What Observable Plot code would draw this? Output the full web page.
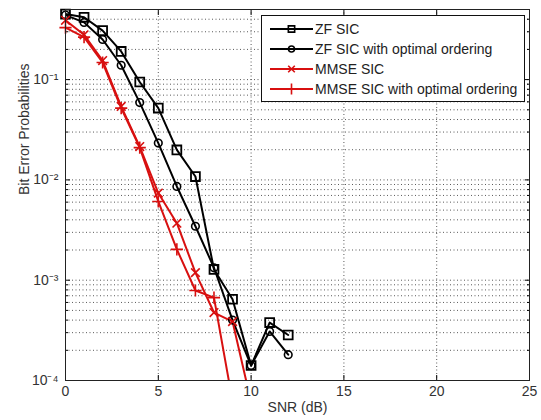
<!DOCTYPE html>
<html><head><meta charset="utf-8">
<script src="https://cdn.jsdelivr.net/npm/d3@7"></script>
<script src="https://cdn.jsdelivr.net/npm/@observablehq/plot@0.6"></script>
<style>
body{margin:0;background:#fff;}
#wrap{position:relative;width:541px;height:420px;font-family:"Liberation Sans",Arial,sans-serif;}
#legend{position:absolute;left:261px;top:15px;}
</style></head><body><div id="wrap"></div>
<script>
// ---- data ----
const snr = [0,1,2,3,4,5,6,7,8,9,10,11,12];
const zfSic    = [0.45,0.418,0.308,0.191,0.0946,0.052,0.0199,0.0108,0.00128,0.000646,0.000141,0.000378,0.000284];
const zfSicOrd = [0.44,0.372,0.251,0.139,0.059,0.0233,0.0086,0.00345,0.00133,0.0004,0.000141,0.000308,0.000181];
const mmseSnr    = [0,1,2,3,4,5,6,7,8,9,10];
const mmseSic    = [0.39,0.28,0.155,0.054,0.0215,0.0074,0.0037,0.00119,0.000476,0.000387,0.000061];
const mmseOrdSnr = [0,1,2,3,4,5,6,7,8,9];
const mmseSicOrd = [0.33,0.265,0.148,0.052,0.021,0.0061,0.00203,0.00079,0.00067,0.000062];
const seriesNames = ["ZF SIC","ZF SIC with optimal ordering","MMSE SIC","MMSE SIC with optimal ordering"];
const seriesColors = ["#000000","#000000","#d81010","#d81010"];
const seriesSymbols = ["square","circle","times","plus"];
const xTicks = [0,5,10,15,20,25];
const xGrid = [5,10,15,20];
const yMajor = [1e-4,1e-3,1e-2,1e-1];
const yMinor = [2e-4,3e-4,4e-4,5e-4,6e-4,7e-4,8e-4,9e-4,
                2e-3,3e-3,4e-3,5e-3,6e-3,7e-3,8e-3,9e-3,
                2e-2,3e-2,4e-2,5e-2,6e-2,7e-2,8e-2,9e-2,
                2e-1,3e-1,4e-1];
const yTickLabels = ["10⁻⁴","10⁻³","10⁻²","10⁻¹"];
const xLabel = "SNR (dB)";
const yLabel = "Bit Error Probabilities";

const series = [
  snr.map((x,i)=>({x, y:zfSic[i], s:0})),
  snr.map((x,i)=>({x, y:zfSicOrd[i], s:1})),
  mmseSnr.map((x,i)=>({x, y:mmseSic[i], s:2})),
  mmseOrdSnr.map((x,i)=>({x, y:mmseSicOrd[i], s:3}))
];

const FONT = "'Liberation Sans', Arial, sans-serif";
const gridStyle = {stroke:"#222", strokeOpacity:0.75, strokeDasharray:"1,2.5", strokeWidth:1};
const lineMarks = [];
series.forEach((d,k)=>{
  lineMarks.push(Plot.line(d,{x:"x",y:"y",stroke:seriesColors[k],strokeWidth:2,clip:true}));
});
series.forEach((d,k)=>{
  const inside = d.filter(p=>p.y>=1e-4);
  lineMarks.push(Plot.dot(inside,{x:"x",y:"y",symbol:()=>seriesSymbols[k],stroke:seriesColors[k],fill:"none",
    strokeWidth:seriesSymbols[k]==="square"?1.8:1.6, r:seriesSymbols[k]==="square"?5:(seriesSymbols[k]==="circle"?3.8:4)}));
});

const chart = Plot.plot({
  width:541, height:420,
  marginLeft:65, marginRight:12, marginTop:9, marginBottom:40,
  style:{fontFamily:FONT, fontSize:"14px", color:"#333", background:"#fff"},
  x:{domain:[0,25], label:null},
  y:{type:"log", domain:[1e-4,0.5], label:null},
  marks:[
    Plot.ruleX(xGrid, gridStyle),
    Plot.ruleY(yMajor.concat(yMinor), gridStyle),
    Plot.axisX({ticks:xTicks, tickSize:-5, tickPadding:11, tickFormat:d=>String(d), stroke:"#000", fontSize:14, fill:"#333"}),
    Plot.axisX({anchor:"top", ticks:xTicks, tickSize:-5, tickFormat:()=>"", label:null, stroke:"#000"}),
    Plot.axisY({ticks:yMajor, tickSize:-5, tickPadding:12, tickFormat:(d)=>yTickLabels[yMajor.indexOf(d)], stroke:"#000", fontSize:14, fill:"#333"}),
    Plot.axisY({ticks:yMinor, tickSize:-3, tickFormat:()=>"", label:null, stroke:"#000"}),
    Plot.axisY({anchor:"right", ticks:yMajor, tickSize:-5, tickFormat:()=>"", label:null, stroke:"#000"}),
    Plot.axisY({anchor:"right", ticks:yMinor, tickSize:-3, tickFormat:()=>"", label:null, stroke:"#000"}),
    ...lineMarks,
    Plot.frame({stroke:"#222", strokeWidth:1}),
    Plot.text([xLabel],{frameAnchor:"bottom", dy:31, fill:"#333", fontSize:14}),
    Plot.text([yLabel],{frameAnchor:"left", rotate:-90, dx:-41, fill:"#333", fontSize:14})
  ]
});
document.getElementById("wrap").appendChild(chart);

// ---- legend overlay ----
const lw = 264, lh = 87;
const leg = d3.select("#wrap").append("svg").attr("id","legend")
  .attr("width",lw).attr("height",lh);
leg.append("rect").attr("x",0.5).attr("y",0.5).attr("width",lw-1).attr("height",lh-1)
  .attr("fill","#fff").attr("stroke","#111").attr("stroke-width",1);
const symMap = {square:d3.symbolSquare, circle:d3.symbolCircle, times:d3.symbolTimes, plus:d3.symbolPlus};
const symSize = {square:40, circle:28, times:30, plus:40};
seriesNames.forEach((name,i)=>{
  const y = 14 + i*20;
  const g = leg.append("g").attr("transform",`translate(0,${y})`);
  g.append("line").attr("x1",9).attr("x2",52).attr("y1",0).attr("y2",0)
    .attr("stroke",seriesColors[i]).attr("stroke-width",2);
  g.append("path").attr("d",d3.symbol(symMap[seriesSymbols[i]], symSize[seriesSymbols[i]])())
    .attr("transform","translate(30.5,0)")
    .attr("fill","none").attr("stroke",seriesColors[i]).attr("stroke-width",1.6);
  g.append("text").attr("x",54).attr("y",0).attr("dy","0.35em")
    .attr("font-size",14).attr("fill","#222")
    .attr("font-family",FONT).text(name);
});
</script>
</body></html>
